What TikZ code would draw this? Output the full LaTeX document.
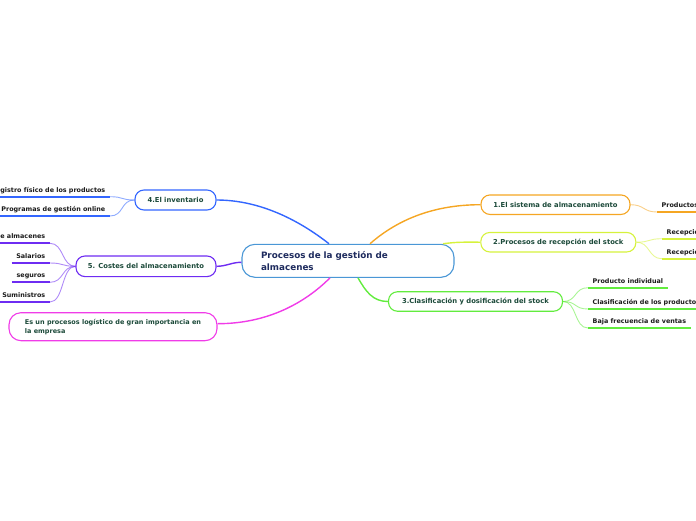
\documentclass[tikz,border=0pt]{standalone}
\usepackage{fontspec}
\setmainfont{DejaVu Sans}
\usetikzlibrary{calc}
\definecolor{corange}{HTML}{F5A623}
\definecolor{cyellow}{HTML}{D6F23C}
\definecolor{cgreen}{HTML}{62EC3E}
\definecolor{cblue}{HTML}{3366FF}
\definecolor{cpurple}{HTML}{6E2CF2}
\definecolor{cmagenta}{HTML}{F03CE8}
\definecolor{ccentral}{HTML}{4A97D6}
\definecolor{ctext}{HTML}{1E2B5E}
\definecolor{boxtext}{HTML}{1C4A3A}
\definecolor{leaftext}{HTML}{1A1A1A}
\begin{document}
\begin{tikzpicture}[x=1pt,y=-1pt,
  box/.style={draw, rounded corners=9pt, fill=white, line width=1.1pt, minimum height=19.5pt, inner sep=0pt, font=\fontsize{6.8}{8}\selectfont\bfseries, text=boxtext},
  leafL/.style={anchor=south east, inner xsep=4.5pt, inner ysep=0pt, text height=5pt, text depth=4.5pt, font=\fontsize{6.4}{8}\selectfont\bfseries, text=leaftext},
  leafR/.style={leafL, anchor=south west},
  mainline/.style={line width=1.4pt},
  subline/.style={line width=0.9pt, opacity=0.55},
  uline/.style={line width=1.8pt}]
\useasboundingbox (0,0) rectangle (696,520);

% central
\node[box, draw=ccentral, rounded corners=13pt, minimum width=212pt, minimum height=33pt, text width=174pt, align=left, inner xsep=19pt, font=\fontsize{8.8}{12}\selectfont\bfseries, text=ctext] (c) at (348,260.8) {Procesos de la gestión de\\almacenes};

% main boxes
\node[box, draw=corange, minimum width=149pt] (b1) at (555.5,204.7) {1.El sistema de almacenamiento};
\node[box, draw=cyellow, minimum width=155pt] (b2) at (558.3,242.2) {2.Procesos de recepción del stock};
\node[box, draw=cgreen, minimum width=174pt] (b3) at (475.5,301.5) {3.Clasificación y dosificación del stock};
\node[box, draw=cblue, minimum width=81pt, minimum height=20pt] (b4) at (175.5,200) {4.El inventario};
\node[box, draw=cpurple, minimum width=140pt, minimum height=20.6pt] (b5) at (146,266.3) {5. Costes del almacenamiento};
\node[box, draw=cmagenta, minimum width=208pt, minimum height=28pt, rounded corners=12pt, align=left, inner xsep=15.5pt, font=\fontsize{6.5}{9}\selectfont\bfseries] (m) at (113,326.7) {Es un procesos logístico de gran importancia en\\la empresa};

% leaves
\node[leafR] (l1) at (657,212) {Productos};
\node[leafR] (l2a) at (662,238.7) {Recepción};
\node[leafR] (l2b) at (662,258.7) {Recepción};
\node[leafR] (l3a) at (588,287.7) {Producto individual};
\node[leafR] (l3b) at (588,309) {Clasificación de los productos};
\node[leafR] (l3c) at (588,328) {Baja frecuencia de ventas};
\node[leafL] (l4a) at (110,196.7) {Registro físico de los productos};
\node[leafL] (l4b) at (110,216) {Programas de gestión online};
\node[leafL] (l5a) at (50,243.3) {de almacenes};
\node[leafL] (l5b) at (50,263) {Salarios};
\node[leafL] (l5c) at (50,282.3) {seguros};
\node[leafL] (l5d) at (50,302) {Suministros};

% underlines
\draw[uline, corange] (l1.south west) -- (l1.south east);
\foreach \l in {l2a,l2b} \draw[uline, cyellow] (\l.south west) -- (\l.south east);
\foreach \l in {l3a,l3b,l3c} \draw[uline, cgreen] (\l.south west) -- (\l.south east);
\foreach \l in {l4a,l4b} \draw[uline, cblue] (\l.south west) -- (\l.south east);
\foreach \l in {l5a,l5b,l5c,l5d} \draw[uline, cpurple] (\l.south west) -- (\l.south east);

% attachment points on the central node
\coordinate (cb) at ($(c.north)+(-19,0)$);
\coordinate (co) at ($(c.north)+(22,0)$);
\coordinate (cy) at ($(c.north)+(95,0)$);
\coordinate (cg) at ($(c.south)+(10,0)$);
\coordinate (cm) at ($(c.south)+(-18,0)$);
\coordinate (cp) at ($(c.west)+(0,1.5)$);
\coordinate (me) at ($(m.east)+(0,-3)$);

% main connectors
\draw[mainline, cblue] (cb) .. controls ($(cb)+(-28,-22)$) and ($(b4.east)+(45,0)$) .. (b4.east);
\draw[mainline, corange] (co) .. controls ($(co)+(25,-22)$) and ($(b1.west)+(-50,0)$) .. (b1.west);
\draw[mainline, cyellow] (cy) .. controls ($(cy)+(15,-2)$) and ($(b2.west)+(-15,0)$) .. (b2.west);
\draw[mainline, cgreen] (cg) .. controls ($(cg)+(8,14)$) and ($(b3.west)+(-15,0)$) .. (b3.west);
\draw[mainline, cmagenta] (cm) .. controls ($(cm)+(-25,25)$) and ($(me)+(50,0)$) .. (me);
\draw[mainline, cpurple] (cp) .. controls ($(cp)+(-10,0)$) and ($(b5.east)+(10,0)$) .. (b5.east);

% sub connectors
\draw[subline, corange] (b1.east) .. controls ($(b1.east)+(14,0)$) and ($(l1.south west)+(-14,0)$) .. (l1.south west);
\foreach \l in {l2a,l2b} \draw[subline, cyellow] (b2.east) .. controls ($(b2.east)+(14,0)$) and ($(\l.south west)+(-14,0)$) .. (\l.south west);
\foreach \l in {l3a,l3b,l3c} \draw[subline, cgreen] (b3.east) .. controls ($(b3.east)+(14,0)$) and ($(\l.south west)+(-14,0)$) .. (\l.south west);
\foreach \l in {l4a,l4b} \draw[subline, cblue] (b4.west) .. controls ($(b4.west)+(-14,0)$) and ($(\l.south east)+(14,0)$) .. (\l.south east);
\foreach \l in {l5a,l5b,l5c,l5d} \draw[subline, cpurple] (b5.west) .. controls ($(b5.west)+(-14,0)$) and ($(\l.south east)+(14,0)$) .. (\l.south east);
\end{tikzpicture}
\end{document}
